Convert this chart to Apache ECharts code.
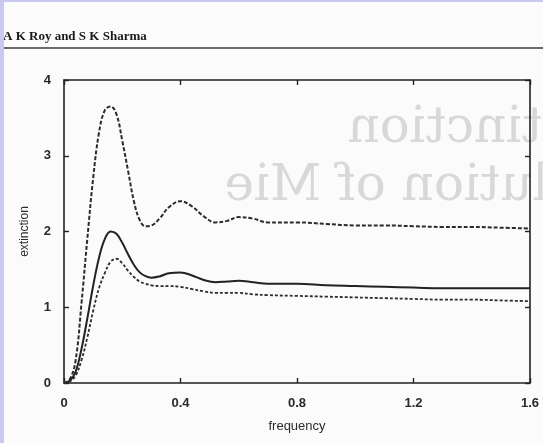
<!DOCTYPE html>
<html>
<head>
<meta charset="utf-8">
<script src="https://cdn.jsdelivr.net/npm/echarts@6/dist/echarts.min.js"></script>
<style>
  html, body { margin: 0; padding: 0; background: #fbfbfb; }
  #chart { width: 543px; height: 443px; }
</style>
</head>
<body>
<div id="chart"></div>
<script>
// frequency grid (denser near the first resonance)
const freq = [0, 0.02, 0.04, 0.06, 0.08, 0.10, 0.12, 0.14, 0.16, 0.18, 0.20, 0.22, 0.24, 0.26, 0.28, 0.30,
  0.33, 0.36, 0.40, 0.44, 0.48, 0.52, 0.56, 0.60, 0.65, 0.70, 0.80, 0.90, 1.0, 1.1, 1.2, 1.3, 1.4, 1.5, 1.6];

// upper dashed curve
const upperDashed = [0, 0.05, 0.3, 1.05, 1.9, 2.7, 3.3, 3.6, 3.65, 3.55, 3.2, 2.8, 2.4, 2.15, 2.07, 2.08,
  2.18, 2.32, 2.4, 2.33, 2.2, 2.12, 2.14, 2.19, 2.17, 2.12, 2.12, 2.1, 2.08, 2.08, 2.07, 2.06, 2.06, 2.05, 2.04];

// solid curve
const solidCurve = [0, 0.03, 0.15, 0.45, 0.85, 1.28, 1.65, 1.9, 2.0, 1.97, 1.85, 1.7, 1.56, 1.46, 1.41, 1.39,
  1.41, 1.45, 1.46, 1.42, 1.36, 1.33, 1.34, 1.35, 1.33, 1.31, 1.31, 1.29, 1.28, 1.27, 1.26, 1.25, 1.25, 1.25, 1.25];

// lower dotted curve
const lowerDotted = [0, 0.02, 0.1, 0.3, 0.6, 0.95, 1.25, 1.45, 1.6, 1.64, 1.58, 1.48, 1.4, 1.34, 1.31, 1.29,
  1.28, 1.28, 1.27, 1.24, 1.21, 1.19, 1.19, 1.19, 1.17, 1.16, 1.15, 1.14, 1.13, 1.12, 1.11, 1.1, 1.1, 1.09, 1.08];

const xTicks = [0, 0.4, 0.8, 1.2, 1.6];
const yTicks = [0, 1, 2, 3, 4];

const pairs = ys => freq.map((f, i) => [f, ys[i]]);

const chart = echarts.init(document.getElementById('chart'));

const labelStyle = () => ({
  color: '#2a2a2a',
  fontFamily: 'Liberation Sans, Arial, sans-serif',
  fontSize: 13,
  fontWeight: 'bold'
});
const frame = () => ({ show: true, onZero: false, lineStyle: { color: '#222', width: 1.6 } });
const tick = () => ({ show: true, inside: true, length: 5, lineStyle: { color: '#222', width: 1.4 } });

const option = {
  backgroundColor: '#fbfbfb',
  animation: false,
  graphic: [
    // scanner edges
    { type: 'rect', left: 0, top: 0, shape: { width: 4, height: 443 }, style: { fill: '#c9c9f2' }, z: 10 },
    { type: 'rect', left: 0, top: 0, shape: { width: 543, height: 2 }, style: { fill: '#c9c9f2' }, z: 10 },
    // show-through from the reverse page (mirrored)
    {
      type: 'text', x: 600, y: 104, scaleX: -1,
      style: { text: 'extinction', fill: '#d8d8d8', font: '50px "DejaVu Serif", serif', textAlign: 'left' },
      z: -1, silent: true
    },
    {
      type: 'text', x: 604, y: 162, scaleX: -1,
      style: { text: 'solution of Mie', fill: '#d8d8d8', font: '50px "DejaVu Serif", serif', textAlign: 'left' },
      z: -1, silent: true
    },
    // running header
    {
      type: 'text', left: 3, top: 30,
      style: { text: 'A K Roy and S K Sharma', fill: '#1a1a1a', font: 'bold 13px "Liberation Serif", serif' }
    },
    { type: 'rect', left: 0, top: 47, shape: { width: 543, height: 2 }, style: { fill: '#6a6a6a' } }
  ],
  grid: { left: 64, right: 13, top: 80, bottom: 60, containLabel: false },
  xAxis: [
    {
      type: 'value', min: 0, max: 1.6, interval: 0.4,
      name: 'frequency', nameLocation: 'middle', nameGap: 37,
      nameTextStyle: { color: '#2a2a2a', fontFamily: 'Liberation Sans, Arial, sans-serif', fontSize: 13 },
      axisLine: frame(), axisTick: tick(), splitLine: { show: false },
      axisLabel: Object.assign({ margin: 14, formatter: v => xTicks.includes(Math.round(v * 10) / 10) ? String(Math.round(v * 10) / 10) : '' }, labelStyle())
    },
    {
      type: 'value', position: 'top', min: 0, max: 1.6, interval: 0.4,
      axisLine: frame(), axisTick: tick(), axisLabel: { show: false }, splitLine: { show: false }
    }
  ],
  yAxis: [
    {
      type: 'value', min: 0, max: 4, interval: 1,
      name: 'extinction', nameLocation: 'middle', nameGap: 33,
      nameTextStyle: { color: '#2a2a2a', fontFamily: 'Liberation Sans, Arial, sans-serif', fontSize: 12 },
      axisLine: frame(), axisTick: tick(), splitLine: { show: false },
      axisLabel: Object.assign({ margin: 13, formatter: v => yTicks.includes(v) ? String(v) : '' }, labelStyle())
    },
    {
      type: 'value', position: 'right', min: 0, max: 4, interval: 1,
      axisLine: frame(), axisTick: tick(), axisLabel: { show: false }, splitLine: { show: false }
    }
  ],
  series: [
    {
      name: 'upper', type: 'line', data: pairs(upperDashed), smooth: 0.4, symbol: 'none',
      lineStyle: { color: '#2b2b2b', width: 2, type: [4, 2] }
    },
    {
      name: 'solid', type: 'line', data: pairs(solidCurve), smooth: 0.4, symbol: 'none',
      lineStyle: { color: '#222', width: 2 }
    },
    {
      name: 'lower', type: 'line', data: pairs(lowerDotted), smooth: 0.4, symbol: 'none',
      lineStyle: { color: '#2b2b2b', width: 1.8, type: [3, 2] }
    }
  ]
};

chart.setOption(option);
</script>
</body>
</html>
